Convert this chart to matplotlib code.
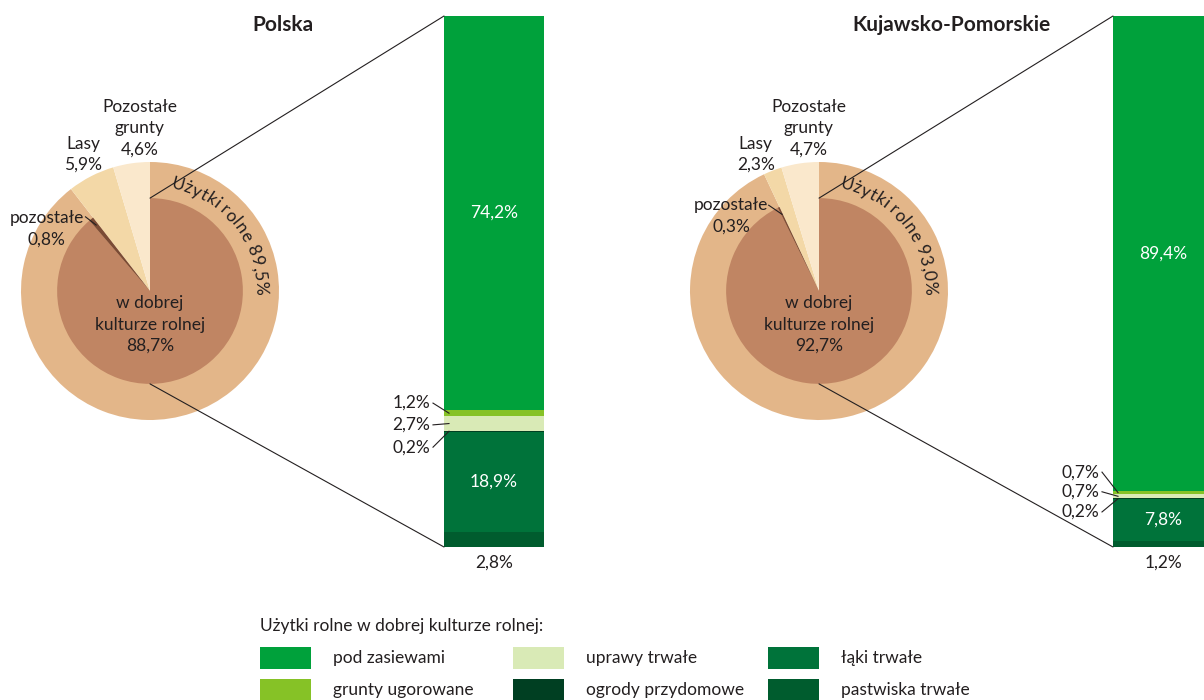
import matplotlib
matplotlib.use("Agg")
import matplotlib.pyplot as plt
from matplotlib.patches import Rectangle, ConnectionPatch
from matplotlib.font_manager import FontProperties
import numpy as np

plt.rcParams['font.family'] = ['Lato', 'DejaVu Sans']
plt.rcParams['font.size'] = 12.5

TXT = '#231f20'

# data
regions = ['Polska', 'Kujawsko-Pomorskie']
# outer ring: Użytki rolne, Lasy, Pozostałe grunty
outer_pl = [89.5, 5.9, 4.6]
outer_kp = [93.0, 2.3, 4.7]
# inner: w dobrej kulturze rolnej, pozostałe
inner_pl = [88.7, 0.8]
inner_kp = [92.7, 0.3]
# bars: użytki rolne w dobrej kulturze rolnej
bar_names = ['pod zasiewami', 'grunty ugorowane', 'uprawy trwałe',
             'ogrody przydomowe', 'łąki trwałe', 'pastwiska trwałe']
bar_pl = [74.2, 1.2, 2.7, 0.2, 18.9, 2.8]
bar_kp = [89.4, 0.7, 0.7, 0.2, 7.8, 1.2]

outer_colors = ['#e3b689', '#f3d8a7', '#fae8cc']
inner_colors = ['#c08563', '#7a4b35']
bar_colors = ['#00a13b', '#86c226', '#d9eab6', '#003f22', '#00733a', '#005c2e']


def pct(v):
    return ('%.1f' % v).replace('.', ',') + '%'


W, H = 1204, 700
fig = plt.figure(figsize=(W / 100, H / 100), dpi=100)
renderer = fig.canvas.get_renderer()

R_PX = 129      # outer radius in pixels
R_IN = 0.72     # inner pie radius (relative)
LS = 1.4


def px_rect(x0, y_top, w, h):
    return [x0 / W, 1 - (y_top + h) / H, w / W, h / H]


def arc_text(ax, s, r_base, start_deg):
    fp = FontProperties(family=['Lato', 'DejaVu Sans'], size=12.5)
    r_px = r_base * R_PX
    for i, ch in enumerate(s):
        if ch == ' ':
            continue
        right = renderer.get_text_width_height_descent(s[:i + 1], fp, ismath=False)[0]
        wch = renderer.get_text_width_height_descent(ch, fp, ismath=False)[0]
        L = (right - wch / 2) * 1.03
        th = np.deg2rad(start_deg) - L / r_px
        ax.text(r_base * np.cos(th), r_base * np.sin(th), ch, fontproperties=fp,
                rotation=np.rad2deg(th) - 90, rotation_mode='anchor',
                ha='center', va='baseline', color=TXT)


def draw_panel(cx, bar_x, title, outer, inner, bars, small_y, lab):
    # pie
    ax = fig.add_axes(px_rect(cx - R_PX, 291 - R_PX, 2 * R_PX, 2 * R_PX))
    ax.pie(outer, radius=1, startangle=90, counterclock=False,
           colors=outer_colors, wedgeprops=dict(linewidth=0))
    rest = 100 - sum(inner)
    ax.pie(inner + [rest], radius=R_IN, startangle=90, counterclock=False,
           colors=inner_colors + ['none'], wedgeprops=dict(linewidth=0))
    ax.set_xlim(-1, 1)
    ax.set_ylim(-1, 1)
    ax.set_aspect('equal')
    ax.axis('off')

    arc_text(ax, 'Użytki rolne ' + pct(outer[0]), 0.815, 79)
    ax.text(0, -0.26, 'w dobrej\nkulturze rolnej\n' + pct(inner[0]),
            ha='center', va='center', color=TXT, linespacing=LS)
    ax.text(-0.08, 1.264, 'Pozostałe\ngrunty\n' + pct(outer[2]),
            ha='center', va='center', color=TXT, linespacing=LS, clip_on=False)
    ax.text(lab[0], 1.058, 'Lasy\n' + pct(outer[1]),
            ha='center', va='center', color=TXT, linespacing=LS, clip_on=False)
    ax.text(lab[1], lab[2], 'pozostałe\n' + pct(inner[1]),
            ha='center', va='center', color=TXT, linespacing=LS, clip_on=False)
    ang = np.deg2rad(90 - 3.6 * (inner[0] + inner[1] / 2))
    ax.plot([lab[3], 0.66 * np.cos(ang)], [lab[4], 0.66 * np.sin(ang)],
            color=TXT, lw=0.8, clip_on=False)

    fig.text(lab[5] / W, 1 - 25 / H, title, ha='center', va='center',
             fontsize=15, fontweight='bold', color=TXT)

    # stacked bar
    bx = fig.add_axes(px_rect(bar_x, 16, 100, 531))
    bottoms = np.concatenate([[0], np.cumsum(bars)[:-1]])
    bx.bar(0, bars, bottom=bottoms, width=1, color=bar_colors, linewidth=0)
    bx.set_xlim(-0.5, 0.5)
    bx.set_ylim(100, 0)
    bx.axis('off')
    for i in (0, 4):
        bx.text(0, bottoms[i] + bars[i] / 2, pct(bars[i]), ha='center', va='center',
                color='white')
    for k, i in enumerate((1, 2, 3)):
        bx.text(-0.64, small_y[k], pct(bars[i]), ha='right', va='center',
                color=TXT, clip_on=False)
        bx.plot([-0.61, -0.45], [small_y[k], bottoms[i] + bars[i] / 2],
                color=TXT, lw=0.8, clip_on=False)
    bx.text(0, 103, pct(bars[5]), ha='center', va='center', color=TXT, clip_on=False)

    # connecting lines
    for ya, yb in ((R_IN, 0), (-R_IN, 100)):
        con = ConnectionPatch(xyA=(0, ya), coordsA=ax.transData,
                              xyB=(-0.5, yb), coordsB=bx.transData,
                              color=TXT, lw=0.8)
        fig.add_artist(con)


draw_panel(150, 444, regions[0], outer_pl, inner_pl, bar_pl,
           [72.9, 77.0, 81.2], [-0.52, -0.80, 0.48, -0.50, 0.575, 283])
draw_panel(819, 1113, regions[1], outer_kp, inner_kp, bar_kp,
           [85.9, 89.6, 93.4], [-0.49, -0.68, 0.585, -0.39, 0.665, 952])

# legend
fig.text(260 / W, 1 - 626 / H, 'Użytki rolne w dobrej kulturze rolnej:',
         ha='left', va='center', color=TXT)
col_x = [260, 513, 768]
row_y = [658, 690]
for i, name in enumerate(bar_names):
    c, r = i // 2, i % 2
    fig.add_artist(Rectangle((col_x[c] / W, 1 - (row_y[r] + 11) / H), 51 / W, 22 / H,
                             transform=fig.transFigure, color=bar_colors[i], lw=0))
    fig.text((col_x[c] + 73) / W, 1 - row_y[r] / H, name, ha='left', va='center',
             color=TXT)

fig.savefig('out.png', dpi=100)
